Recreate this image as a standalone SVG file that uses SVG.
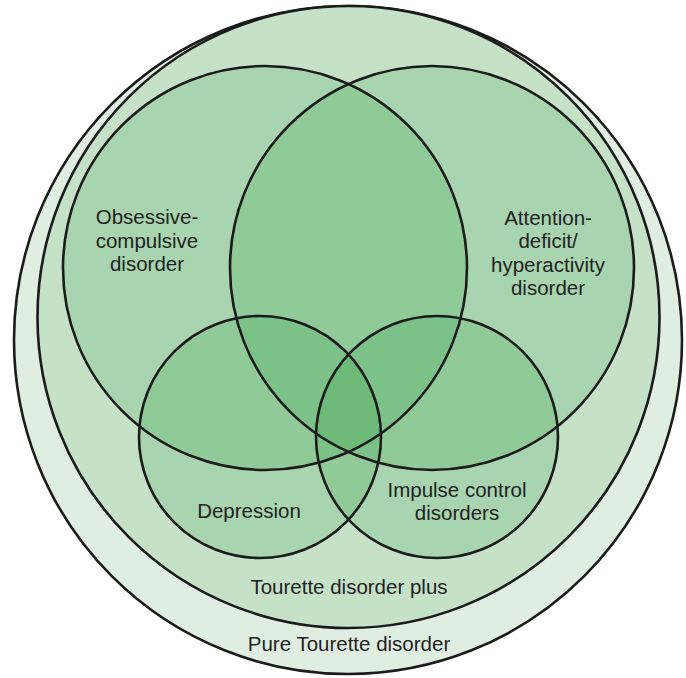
<svg xmlns="http://www.w3.org/2000/svg" width="686" height="678" viewBox="0 0 686 678">
  <style>
    .lbl { font-family: "Liberation Sans", Arial, Helvetica, sans-serif; font-size: 20.5px; fill: #222; text-anchor: middle; }
    .ring { fill: none; stroke: #1b1b1b; stroke-width: 2.6; }
    .set { fill: #209632; fill-opacity: 0.17; stroke: none; }
  </style>
  <rect width="686" height="678" fill="#ffffff"/>
  <g id="pure-tourette">
    <circle cx="348" cy="340" r="334" fill="#e0eee2" stroke="#1b1b1b" stroke-width="2.6"/>
    <text class="lbl" x="349" y="651">Pure Tourette disorder</text>
  </g>
  <g id="tourette-plus">
    <circle cx="348.5" cy="317" r="311" fill="#c5e2c9" stroke="#1b1b1b" stroke-width="2.6"/>
    <text class="lbl" x="349" y="594">Tourette disorder plus</text>
  </g>
  <g id="ocd">
    <circle class="set" cx="265" cy="268" r="202"/>
    <text class="lbl" x="147" y="224">Obsessive-</text>
    <text class="lbl" x="147" y="247.5">compulsive</text>
    <text class="lbl" x="147" y="271">disorder</text>
  </g>
  <g id="adhd">
    <circle class="set" cx="432" cy="268" r="202"/>
    <text class="lbl" x="548" y="224.5">Attention-</text>
    <text class="lbl" x="548" y="248">deficit/</text>
    <text class="lbl" x="548" y="271.5">hyperactivity</text>
    <text class="lbl" x="548" y="295">disorder</text>
  </g>
  <g id="depression">
    <circle class="set" cx="260" cy="437" r="121"/>
    <text class="lbl" x="249" y="518">Depression</text>
  </g>
  <g id="impulse-control">
    <circle class="set" cx="437" cy="437" r="121"/>
    <text class="lbl" x="457" y="497">Impulse control</text>
    <text class="lbl" x="457" y="519.5">disorders</text>
  </g>
  <g id="outlines">
    <circle class="ring" cx="265" cy="268" r="202"/>
    <circle class="ring" cx="432" cy="268" r="202"/>
    <circle class="ring" cx="260" cy="437" r="121"/>
    <circle class="ring" cx="437" cy="437" r="121"/>
  </g>
</svg>
